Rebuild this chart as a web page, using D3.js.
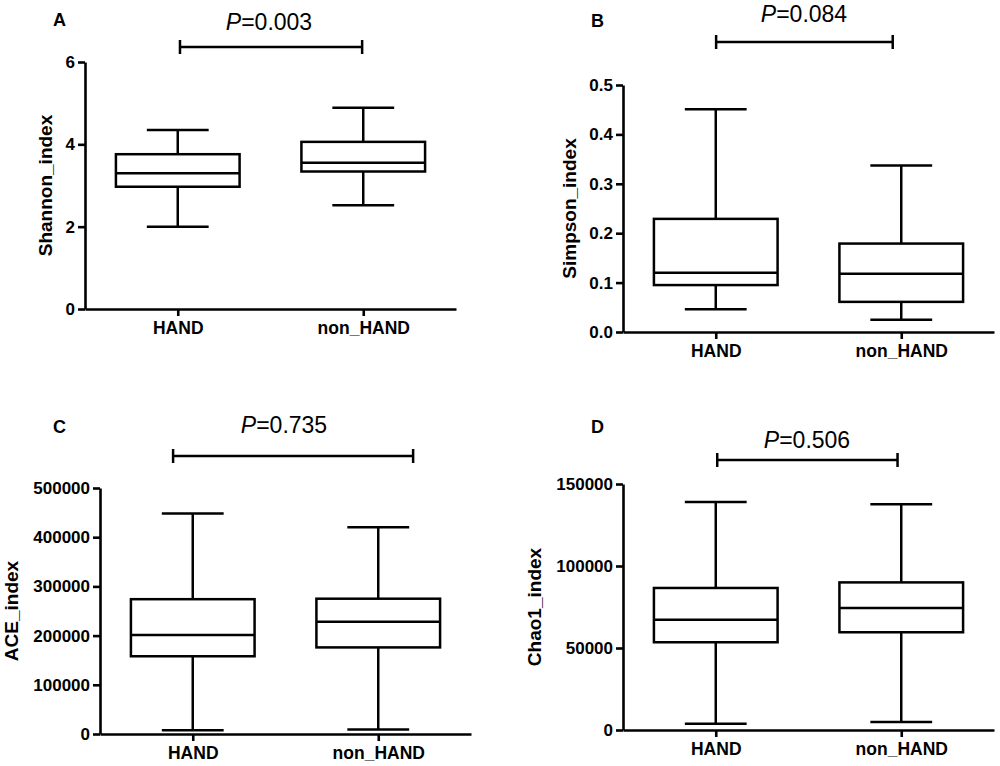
<!DOCTYPE html>
<html>
<head>
<meta charset="utf-8">
<script src="https://cdn.jsdelivr.net/npm/d3@7"></script>
<style>
  body { margin: 0; background: #ffffff; }
  svg text { font-family: "Liberation Sans", Arial, sans-serif; fill: #000000; }
</style>
</head>
<body>
<div id="chart"></div>
<script>
const groups = ["HAND", "non_HAND"];

// min, Q1, median, Q3, max
const shannonHand = [2.00, 2.97, 3.30, 3.76, 4.35];
const shannonNonHand = [2.52, 3.34, 3.55, 4.06, 4.89];
const simpsonHand = [0.046, 0.095, 0.120, 0.229, 0.451];
const simpsonNonHand = [0.025, 0.061, 0.118, 0.179, 0.337];
const aceHand = [7500, 158000, 201000, 274000, 448000];
const aceNonHand = [9000, 176000, 228000, 275000, 420000];
const chao1Hand = [3800, 53500, 67300, 86600, 139000];
const chao1NonHand = [4900, 59600, 74400, 90000, 137700];

const shannonTicks = [0, 2, 4, 6];
const simpsonTicks = [0, 0.1, 0.2, 0.3, 0.4, 0.5];
const aceTicks = [0, 100000, 200000, 300000, 400000, 500000];
const chao1Ticks = [0, 50000, 100000, 150000];

const panelLetters = ["A", "B", "C", "D"];
const yTitles = ["Shannon_index", "Simpson_index", "ACE_index", "Chao1_index"];
const pValues = ["0.003", "0.084", "0.735", "0.506"];

// 每個小圖的位置 (px)
const panels = [
    { stats: [shannonHand, shannonNonHand], ticks: shannonTicks, fmt: d3.format("d"),
      x0: 85, yTop: 62, yBottom: 309, letterX: 53, letterY: 26, titleX: 46,
      pX: 269, pY: 30, barY: 47, barFrom: 0.256, barTo: 0.747 },
    { stats: [simpsonHand, simpsonNonHand], ticks: simpsonTicks, fmt: d3.format(".1f"),
      x0: 623, yTop: 85, yBottom: 332, letterX: 591, letterY: 27, titleX: 570,
      pX: 804, pY: 22, barY: 42, barFrom: 0.251, barTo: 0.727 },
    { stats: [aceHand, aceNonHand], ticks: aceTicks, fmt: d3.format("d"),
      x0: 100, yTop: 488, yBottom: 734, letterX: 53, letterY: 433, titleX: 12,
      pX: 284, pY: 433, barY: 456, barFrom: 0.197, barTo: 0.844 },
    { stats: [chao1Hand, chao1NonHand], ticks: chao1Ticks, fmt: d3.format("d"),
      x0: 623, yTop: 484, yBottom: 730, letterX: 591, letterY: 433, titleX: 535,
      pX: 807, pY: 448, barY: 460, barFrom: 0.254, barTo: 0.740 }
];

const axisWidth = 371;
const lineW = 2.5;

const svg = d3.select("#chart")
    .append("svg")
    .attr("width", 1000)
    .attr("height", 766);

panels.forEach((p, k) => drawPanel(p, k));

function drawPanel(p, k) {
    const g = svg.append("g");

    const x = d3.scalePoint()
        .domain(groups)
        .range([p.x0, p.x0 + axisWidth])
        .padding(0.5);

    const y = d3.scaleLinear()
        .domain([0, d3.max(p.ticks)])
        .range([p.yBottom, p.yTop]);

    const boxW = axisWidth / 3;

    // y 軸
    g.append("g")
        .attr("transform", `translate(${p.x0},0)`)
        .call(d3.axisLeft(y).tickValues(p.ticks).tickFormat(p.fmt).tickSize(7).tickSizeOuter(0).tickPadding(3))
        .call(a => a.selectAll("path, line").attr("stroke", "#000").attr("stroke-width", 2.6))
        .call(a => a.selectAll(".tick text")
            .attr("font-size", "17px")
            .attr("font-weight", "bold")
            .attr("font-family", "Liberation Sans, Arial, sans-serif"));

    // x 軸
    g.append("g")
        .attr("transform", `translate(0,${p.yBottom})`)
        .call(d3.axisBottom(x).tickSize(7).tickSizeOuter(0).tickPadding(5.5))
        .call(a => a.selectAll("path, line").attr("stroke", "#000").attr("stroke-width", 2.6))
        .call(a => a.selectAll(".tick text")
            .attr("font-size", "17.5px")
            .attr("font-weight", "bold")
            .attr("font-family", "Liberation Sans, Arial, sans-serif"));

    // 盒鬚圖
    groups.forEach((name, i) => {
        const s = p.stats[i];
        const cx = x(name);
        const bg = g.append("g")
            .attr("stroke", "#000")
            .attr("stroke-width", lineW)
            .attr("fill", "none");

        // 鬚線
        bg.append("line").attr("x1", cx).attr("x2", cx).attr("y1", y(s[0])).attr("y2", y(s[1]));
        bg.append("line").attr("x1", cx).attr("x2", cx).attr("y1", y(s[3])).attr("y2", y(s[4]));
        bg.append("line").attr("x1", cx - boxW / 4).attr("x2", cx + boxW / 4).attr("y1", y(s[0])).attr("y2", y(s[0]));
        bg.append("line").attr("x1", cx - boxW / 4).attr("x2", cx + boxW / 4).attr("y1", y(s[4])).attr("y2", y(s[4]));

        // 盒子和中位數
        bg.append("rect")
            .attr("x", cx - boxW / 2)
            .attr("y", y(s[3]))
            .attr("width", boxW)
            .attr("height", y(s[1]) - y(s[3]))
            .attr("fill", "#fff");
        bg.append("line").attr("x1", cx - boxW / 2).attr("x2", cx + boxW / 2).attr("y1", y(s[2])).attr("y2", y(s[2]));
    });

    // 顯著性橫線
    const bx1 = p.x0 + axisWidth * p.barFrom;
    const bx2 = p.x0 + axisWidth * p.barTo;
    const bar = g.append("g").attr("stroke", "#000").attr("stroke-width", lineW);
    bar.append("line").attr("x1", bx1).attr("x2", bx2).attr("y1", p.barY).attr("y2", p.barY);
    bar.append("line").attr("x1", bx1).attr("x2", bx1).attr("y1", p.barY - 7).attr("y2", p.barY + 7);
    bar.append("line").attr("x1", bx2).attr("x2", bx2).attr("y1", p.barY - 7).attr("y2", p.barY + 7);

    const pt = g.append("text")
        .attr("x", p.pX)
        .attr("y", p.pY)
        .attr("text-anchor", "middle")
        .attr("font-size", "23px");
    pt.append("tspan").attr("font-style", "italic").text("P");
    pt.append("tspan").text("=" + pValues[k]);

    // 小圖字母
    g.append("text")
        .attr("x", p.letterX)
        .attr("y", p.letterY)
        .attr("font-size", "18px")
        .attr("font-weight", "bold")
        .text(panelLetters[k]);

    // y 軸標題
    g.append("text")
        .attr("transform", `translate(${p.titleX},${(p.yTop + p.yBottom) / 2}) rotate(-90)`)
        .attr("text-anchor", "middle")
        .attr("dy", "0.3em")
        .attr("font-size", "19px")
        .attr("font-weight", "bold")
        .text(yTitles[k]);
}
</script>
</body>
</html>
